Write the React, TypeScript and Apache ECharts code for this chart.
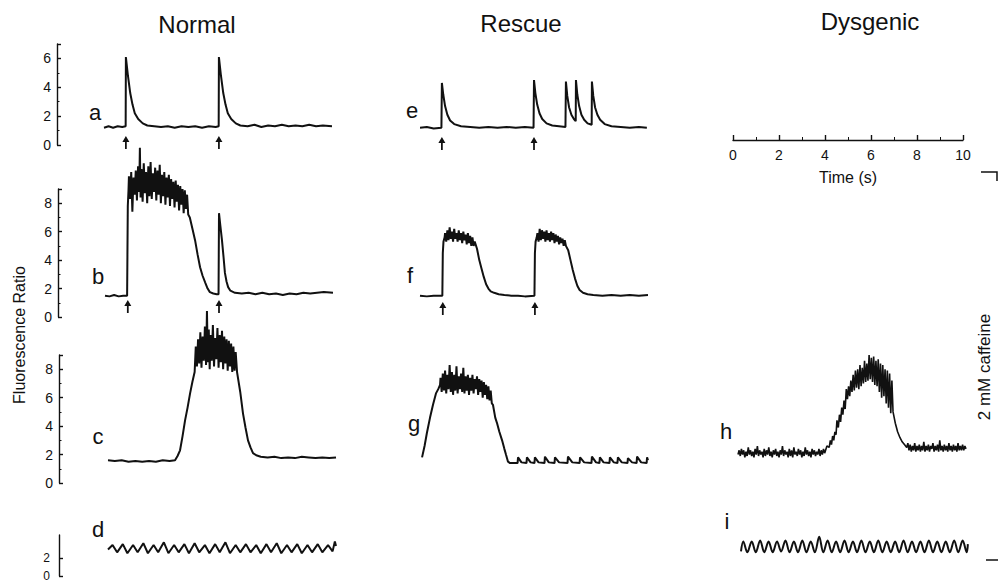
import React, { useEffect, useRef } from "react";
import * as echarts from "echarts";

// ---------- data: [time (s), fluorescence ratio] ----------
const traceA: number[][] = [
  [0, 1.2], [0.2, 1.3], [0.4, 1.2], [0.6, 1.3], [0.8, 1.25], [0.95, 1.3], [0.96, 6.1], [1.05, 4.8], [1.15, 3.6],
  [1.25, 2.8], [1.35, 2.2], [1.5, 1.8], [1.7, 1.5], [1.9, 1.35], [2.2, 1.3], [2.5, 1.25], [2.8, 1.3], [3.1, 1.2],
  [3.4, 1.3], [3.7, 1.25], [4.0, 1.3], [4.3, 1.2], [4.6, 1.3], [4.9, 1.25], [5.03, 1.3], [5.04, 6.1], [5.13, 4.8],
  [5.23, 3.6], [5.33, 2.8], [5.43, 2.2], [5.58, 1.8], [5.78, 1.5], [5.98, 1.35], [6.3, 1.3], [6.6, 1.4], [6.9, 1.25],
  [7.2, 1.35], [7.5, 1.3], [7.8, 1.4], [8.1, 1.3], [8.4, 1.35], [8.7, 1.3], [9.0, 1.4], [9.3, 1.3], [9.6, 1.35], [10, 1.3],
];

const traceB: number[][] = [
  [0, 1.5], [0.2, 1.45], [0.4, 1.55], [0.6, 1.45], [0.8, 1.5], [0.97, 1.5], [1.0, 7.8], [1.03, 8.9],
  [1.05, 9.9], [1.1, 8.3], [1.15, 10.2], [1.2, 7.4], [1.25, 9.8], [1.3, 8.6], [1.35, 10.3], [1.4, 8.2], [1.45, 10.6],
  [1.5, 8.8], [1.53, 11.9], [1.56, 8.4], [1.6, 10.4], [1.65, 8.1], [1.7, 10.8], [1.75, 8.7], [1.8, 10.2], [1.85, 8.0],
  [1.9, 10.6], [1.95, 8.5], [2.0, 10.9], [2.05, 8.3], [2.1, 10.1], [2.15, 8.8], [2.2, 10.5], [2.25, 8.2], [2.3, 10.3],
  [2.35, 8.6], [2.4, 10.7], [2.45, 8.0], [2.5, 10.0], [2.55, 8.5], [2.6, 10.2], [2.65, 7.9], [2.7, 9.8], [2.75, 8.4],
  [2.8, 10.0], [2.85, 7.8], [2.9, 9.7], [2.95, 8.3], [3.0, 9.5], [3.05, 7.7], [3.1, 9.6], [3.15, 8.1], [3.2, 9.3],
  [3.25, 7.5], [3.3, 9.2], [3.35, 7.9], [3.4, 9.0], [3.45, 7.3], [3.5, 8.9], [3.55, 7.6], [3.6, 8.6], [3.65, 7.2],
  [3.72, 7.0], [3.85, 6.1], [3.95, 5.4], [4.06, 4.4], [4.17, 3.5], [4.28, 2.9], [4.4, 2.4], [4.5, 2.0], [4.6, 1.75],
  [4.75, 1.65], [4.9, 1.6], [4.98, 1.6], [5.0, 7.3], [5.06, 6.4], [5.13, 5.4], [5.2, 4.2], [5.26, 3.1], [5.33, 2.5],
  [5.4, 2.1], [5.5, 1.85], [5.7, 1.7], [6.0, 1.65], [6.3, 1.7], [6.6, 1.6], [6.9, 1.7], [7.2, 1.6], [7.5, 1.65],
  [7.8, 1.55], [8.1, 1.65], [8.4, 1.6], [8.7, 1.7], [9.0, 1.65], [9.3, 1.7], [9.6, 1.75], [10, 1.7],
];

const traceC: number[][] = [
  [0, 1.6], [0.3, 1.55], [0.6, 1.6], [0.9, 1.5], [1.2, 1.55], [1.5, 1.5], [1.8, 1.55], [2.1, 1.5], [2.4, 1.6],
  [2.7, 1.55], [2.94, 1.6], [3.05, 1.9], [3.16, 2.3], [3.27, 3.3], [3.38, 4.4], [3.49, 5.3], [3.6, 6.3], [3.7, 7.1],
  [3.8, 7.8], [3.85, 9.6], [3.9, 8.2], [3.95, 10.1], [4.0, 8.4], [4.05, 10.6], [4.1, 8.1], [4.15, 10.3], [4.2, 8.6],
  [4.25, 11.0], [4.3, 8.3], [4.34, 12.1], [4.38, 8.5], [4.42, 10.8], [4.46, 8.0], [4.5, 10.4], [4.55, 8.6], [4.6, 11.1],
  [4.65, 8.2], [4.7, 10.2], [4.75, 8.7], [4.8, 10.9], [4.85, 8.1], [4.9, 10.4], [4.95, 8.5], [5.0, 10.7], [5.05, 8.0],
  [5.1, 10.3], [5.15, 8.4], [5.2, 10.1], [5.25, 7.9], [5.3, 10.0], [5.35, 8.2], [5.4, 9.8], [5.45, 7.8], [5.5, 9.6],
  [5.55, 7.9], [5.6, 9.2], [5.66, 7.8], [5.8, 6.4], [5.92, 4.9], [6.03, 3.9], [6.14, 3.0], [6.25, 2.5], [6.36, 2.1],
  [6.5, 1.95], [6.7, 1.85], [7.0, 1.8], [7.3, 1.85], [7.6, 1.75], [7.9, 1.8], [8.2, 1.75], [8.5, 1.85], [8.8, 1.8],
  [9.1, 1.75], [9.4, 1.8], [9.7, 1.75], [10, 1.8],
];

const traceD: number[][] = [
  [0, 2.9], [0.2, 3.4], [0.4, 2.6], [0.65, 3.5], [0.85, 2.5], [1.1, 3.4], [1.3, 2.6], [1.55, 3.6], [1.75, 2.5],
  [2.0, 3.4], [2.2, 2.6], [2.45, 3.7], [2.65, 2.5], [2.9, 3.4], [3.1, 2.6], [3.35, 3.5], [3.55, 2.5], [3.8, 3.6],
  [4.0, 2.6], [4.25, 3.4], [4.45, 2.5], [4.7, 3.5], [4.9, 2.6], [5.15, 3.7], [5.35, 2.5], [5.6, 3.4], [5.8, 2.6],
  [6.05, 3.5], [6.25, 2.6], [6.5, 3.4], [6.7, 2.5], [6.95, 3.5], [7.15, 2.6], [7.4, 3.6], [7.6, 2.5], [7.85, 3.4],
  [8.05, 2.6], [8.3, 3.5], [8.5, 2.5], [8.75, 3.4], [8.95, 2.6], [9.2, 3.5], [9.4, 2.6], [9.65, 3.4], [9.85, 2.7],
  [9.95, 3.8], [10, 3.3],
];

const traceE: number[][] = [
  [0, 1.2], [0.3, 1.25], [0.6, 1.15], [0.94, 1.2], [0.96, 4.3], [1.02, 3.5], [1.1, 2.7], [1.2, 2.1], [1.32, 1.7],
  [1.5, 1.45], [1.8, 1.3], [2.2, 1.25], [2.6, 1.2], [3.0, 1.25], [3.4, 1.2], [3.8, 1.25], [4.2, 1.2], [4.6, 1.25],
  [4.98, 1.2], [5.0, 4.5], [5.06, 3.6], [5.14, 2.8], [5.24, 2.2], [5.36, 1.8], [5.55, 1.5], [5.8, 1.35], [6.1, 1.3],
  [6.38, 1.25], [6.4, 4.4], [6.46, 3.4], [6.54, 2.6], [6.64, 2.1], [6.75, 1.8], [6.83, 1.65], [6.84, 4.5], [6.9, 3.5],
  [6.98, 2.7], [7.08, 2.1], [7.2, 1.75], [7.35, 1.5], [7.53, 1.4], [7.54, 4.4], [7.6, 3.4], [7.68, 2.6], [7.78, 2.1],
  [7.9, 1.75], [8.1, 1.45], [8.4, 1.3], [8.8, 1.25], [9.2, 1.2], [9.6, 1.25], [9.95, 1.2],
];

const traceF: number[][] = [
  [0, 1.5], [0.3, 1.45], [0.6, 1.5], [0.98, 1.5], [1.0, 4.5], [1.03, 5.3], [1.08, 5.6],
  [1.1, 5.9], [1.15, 5.3], [1.2, 6.1], [1.25, 5.4], [1.3, 6.3], [1.35, 5.5], [1.4, 6.0], [1.45, 5.3], [1.5, 6.2],
  [1.55, 5.5], [1.6, 5.9], [1.65, 5.3], [1.7, 6.1], [1.75, 5.4], [1.8, 5.9], [1.85, 5.2], [1.9, 6.0], [1.95, 5.4],
  [2.0, 5.8], [2.05, 5.1], [2.1, 5.9], [2.15, 5.2], [2.2, 5.7], [2.25, 5.0], [2.3, 5.6], [2.35, 5.0], [2.4, 5.3],
  [2.5, 4.8], [2.6, 4.0], [2.7, 3.4], [2.8, 2.8], [2.9, 2.3], [3.0, 2.0], [3.1, 1.8], [3.25, 1.7], [3.45, 1.6],
  [3.7, 1.55], [4.0, 1.5], [4.3, 1.5], [4.6, 1.45], [5.02, 1.5], [5.04, 4.5], [5.07, 5.3], [5.12, 5.6],
  [5.15, 5.9], [5.2, 5.3], [5.25, 6.2], [5.3, 5.4], [5.35, 6.1], [5.4, 5.5], [5.45, 6.0], [5.5, 5.3], [5.55, 6.1],
  [5.6, 5.4], [5.65, 5.9], [5.7, 5.3], [5.75, 6.0], [5.8, 5.4], [5.85, 5.9], [5.9, 5.2], [5.95, 5.8], [6.0, 5.3],
  [6.05, 5.7], [6.1, 5.1], [6.15, 5.6], [6.2, 5.2], [6.25, 5.5], [6.3, 5.0], [6.35, 5.4], [6.4, 5.0],
  [6.5, 4.7], [6.6, 4.0], [6.7, 3.3], [6.8, 2.7], [6.9, 2.2], [7.0, 1.9], [7.15, 1.7], [7.35, 1.6], [7.6, 1.55],
  [8.0, 1.5], [8.4, 1.55], [8.8, 1.5], [9.2, 1.55], [9.6, 1.5], [10, 1.55],
];

const traceG: number[][] = [
  [0.09, 1.8], [0.2, 2.6], [0.3, 3.5], [0.44, 4.6], [0.57, 5.5], [0.7, 6.3], [0.8, 6.6], [0.88, 6.9],
  [0.9, 7.4], [0.95, 6.4], [1.0, 7.7], [1.05, 6.5], [1.1, 7.9], [1.15, 6.3], [1.2, 7.6], [1.25, 6.6], [1.3, 8.3],
  [1.35, 6.4], [1.4, 7.8], [1.45, 6.2], [1.5, 7.6], [1.55, 6.5], [1.6, 8.2], [1.65, 6.3], [1.7, 7.5], [1.75, 6.6],
  [1.8, 7.7], [1.85, 6.4], [1.9, 8.1], [1.95, 6.3], [2.0, 7.5], [2.05, 6.5], [2.1, 7.6], [2.15, 6.2], [2.2, 7.4],
  [2.25, 6.5], [2.3, 7.6], [2.35, 6.3], [2.4, 7.3], [2.45, 6.6], [2.5, 7.5], [2.55, 6.2], [2.6, 7.3], [2.65, 6.4],
  [2.7, 7.2], [2.75, 6.0], [2.8, 7.1], [2.85, 6.2], [2.9, 6.9], [2.95, 5.9], [3.0, 6.8], [3.05, 5.8], [3.1, 6.5],
  [3.15, 5.6], [3.2, 5.5], [3.3, 4.6], [3.38, 4.2], [3.48, 3.6], [3.6, 3.0], [3.7, 2.4], [3.77, 2.0], [3.86, 1.5],
  [3.95, 1.4], [4.28, 1.4], [4.3, 1.8], [4.45, 1.45], [4.67, 1.4], [4.69, 1.8], [4.85, 1.45], [5.02, 1.4], [5.04, 1.8],
  [5.2, 1.45], [5.46, 1.4], [5.48, 1.85], [5.65, 1.45], [5.9, 1.4], [5.92, 1.8], [6.1, 1.45], [6.47, 1.4], [6.49, 1.85],
  [6.68, 1.45], [7.0, 1.4], [7.02, 1.8], [7.2, 1.45], [7.52, 1.4], [7.54, 1.85], [7.72, 1.45], [7.87, 1.4], [7.89, 1.8],
  [8.05, 1.45], [8.31, 1.4], [8.33, 1.8], [8.5, 1.45], [8.66, 1.4], [8.68, 1.8], [8.85, 1.45], [9.1, 1.4], [9.12, 1.75],
  [9.3, 1.45], [9.5, 1.4], [9.52, 1.85], [9.7, 1.45], [9.94, 1.4], [9.96, 1.8], [10, 1.6],
];

const traceH: number[][] = [
  [0, 2.0], [0.05, 2.3], [0.1, 1.9], [0.15, 2.4], [0.2, 2.0], [0.25, 2.3], [0.3, 1.8], [0.35, 2.2], [0.4, 1.9],
  [0.45, 2.5], [0.5, 2.0], [0.55, 2.3], [0.6, 1.9], [0.65, 2.2], [0.7, 1.8], [0.75, 2.4], [0.8, 2.0], [0.85, 2.6],
  [0.9, 1.9], [0.95, 2.3], [1.0, 2.0], [1.05, 2.2], [1.1, 1.8], [1.15, 2.4], [1.2, 1.9], [1.25, 2.3], [1.3, 2.0],
  [1.35, 2.5], [1.4, 1.9], [1.45, 2.2], [1.5, 1.8], [1.55, 2.3], [1.6, 2.0], [1.65, 2.4], [1.7, 1.9], [1.75, 2.2],
  [1.8, 1.8], [1.85, 2.3], [1.9, 2.0], [1.95, 2.6], [2.0, 1.9], [2.05, 2.3], [2.1, 2.0], [2.15, 2.2], [2.2, 1.8],
  [2.25, 2.4], [2.3, 1.9], [2.35, 2.3], [2.4, 1.8], [2.45, 2.5], [2.5, 2.0], [2.55, 2.2], [2.6, 1.9], [2.65, 2.4],
  [2.7, 2.0], [2.75, 2.3], [2.8, 1.8], [2.85, 2.2], [2.9, 1.9], [2.95, 2.5], [3.0, 2.0], [3.05, 2.3], [3.1, 1.9],
  [3.15, 2.2], [3.2, 1.8], [3.25, 2.4], [3.3, 2.0], [3.35, 2.3], [3.4, 1.9], [3.45, 2.2], [3.5, 2.0], [3.55, 2.4],
  [3.6, 1.9], [3.65, 2.3], [3.7, 2.0], [3.75, 2.4], [3.8, 2.1],
  [3.9, 2.6], [4.0, 2.5], [4.05, 3.0], [4.1, 2.7], [4.15, 3.3], [4.2, 3.0], [4.25, 3.6], [4.3, 3.4], [4.34, 4.4],
  [4.4, 3.9], [4.45, 4.8], [4.5, 4.3], [4.55, 5.3], [4.6, 4.8], [4.65, 5.8], [4.7, 5.2], [4.75, 6.6], [4.8, 5.9],
  [4.85, 6.8], [4.9, 6.1], [4.95, 7.2], [5.0, 6.4], [5.05, 7.6], [5.1, 6.5], [5.15, 7.9], [5.2, 6.7], [5.25, 8.0],
  [5.3, 6.6], [5.35, 8.3], [5.4, 6.8], [5.45, 8.1], [5.5, 7.0], [5.55, 8.6], [5.6, 7.1], [5.65, 8.4], [5.7, 7.2],
  [5.75, 9.0], [5.8, 7.3], [5.85, 8.8], [5.9, 7.1], [5.95, 8.9], [6.0, 6.9], [6.05, 8.6], [6.1, 6.8], [6.15, 8.7],
  [6.2, 6.4], [6.25, 8.4], [6.3, 6.0], [6.35, 8.3], [6.4, 6.1], [6.45, 8.0], [6.5, 5.6], [6.55, 7.9], [6.6, 5.3],
  [6.65, 7.7], [6.7, 4.9], [6.75, 7.2], [6.8, 5.0], [6.9, 4.2], [7.0, 3.6], [7.1, 3.2], [7.2, 2.9], [7.3, 2.7],
  [7.4, 2.5], [7.45, 2.8], [7.5, 2.3], [7.55, 2.7], [7.6, 2.2], [7.65, 2.6], [7.7, 2.3], [7.75, 2.8], [7.8, 2.2],
  [7.85, 2.6], [7.9, 2.3], [7.95, 2.7], [8.0, 2.2], [8.05, 2.6], [8.1, 2.3], [8.15, 2.9], [8.2, 2.2], [8.25, 2.6],
  [8.3, 2.3], [8.35, 2.7], [8.4, 2.2], [8.45, 2.6], [8.5, 2.4], [8.55, 2.8], [8.6, 2.2], [8.65, 2.6], [8.7, 2.3],
  [8.75, 2.7], [8.8, 2.2], [8.85, 3.0], [8.9, 2.3], [8.95, 2.6], [9.0, 2.2], [9.05, 2.7], [9.1, 2.3], [9.15, 2.6],
  [9.2, 2.2], [9.25, 2.8], [9.3, 2.3], [9.35, 2.6], [9.4, 2.2], [9.45, 2.7], [9.5, 2.3], [9.55, 2.6], [9.6, 2.2],
  [9.65, 2.8], [9.7, 2.3], [9.75, 2.6], [9.8, 2.3], [9.85, 2.7], [9.9, 2.3], [9.95, 2.6], [10, 2.4],
];

const traceI: number[][] = [
  [0, 2.7], [0.1, 3.8], [0.28, 2.6], [0.47, 3.8], [0.65, 2.6], [0.84, 3.9], [1.02, 2.6], [1.21, 3.8], [1.39, 2.6],
  [1.58, 3.8], [1.76, 2.7], [1.95, 3.9], [2.13, 2.6], [2.32, 3.8], [2.5, 2.6], [2.69, 3.9], [2.87, 2.6], [3.06, 3.8],
  [3.24, 2.6], [3.43, 4.3], [3.61, 2.6], [3.8, 3.9], [3.98, 2.6], [4.17, 3.8], [4.35, 2.6], [4.54, 3.9], [4.72, 2.6],
  [4.91, 3.8], [5.09, 2.6], [5.28, 3.9], [5.46, 2.6], [5.65, 3.8], [5.83, 2.6], [6.02, 3.9], [6.2, 2.6], [6.39, 3.8],
  [6.57, 2.6], [6.76, 3.8], [6.94, 2.6], [7.13, 3.9], [7.31, 2.6], [7.5, 3.8], [7.68, 2.6], [7.87, 3.8], [8.05, 2.6],
  [8.24, 3.9], [8.42, 2.6], [8.61, 3.8], [8.79, 2.6], [8.98, 3.8], [9.16, 2.6], [9.35, 3.9], [9.53, 2.6], [9.72, 3.9],
  [9.9, 2.6], [9.95, 3.5],
];

// stimulus arrow times (s)
const stimA = [0.96, 5.04];
const stimB = [1.0, 5.0];
const stimE = [0.96, 5.0];
const stimF = [1.0, 5.04];

const columnTitles = ["Normal", "Rescue", "Dysgenic"];
const panelLetters = ["a", "b", "c", "d", "e", "f", "g", "h", "i"];
const timeTickStep = 2;

// ---------- layout ----------
const FONT = "'Liberation Sans', Arial, Helvetica, sans-serif";
const INK = "#111";
const rows = [
  { top: 44, height: 101, max: 7 },
  { top: 189, height: 128, max: 9 },
  { top: 355, height: 128, max: 9 },
  { top: 535, height: 41, max: 4.5 },
];

const panels = [
  { data: traceA, left: 104, row: 0, axis: true, offset: 47, stim: stimA, arrowY: 0.17 },
  { data: traceB, left: 105, row: 1, axis: true, offset: 47, stim: stimB, arrowY: 0.74 },
  { data: traceC, left: 108, row: 2, axis: true, offset: 49 },
  { data: traceD, left: 108, row: 3, axis: true, offset: 49 },
  { data: traceE, left: 420, row: 0, stim: stimE, arrowY: 0.1 },
  { data: traceF, left: 420, row: 1, stim: stimF, arrowY: 0.6 },
  { data: traceG, left: 420, row: 2 },
  { data: traceH, left: 738, row: 2, width: 1.6 },
  { data: traceI, left: 741, row: 3, smooth: 0.35 },
] as any[];

const letterPos = [
  [95, 112], [98, 276], [98, 436], [98, 529], [412, 110], [410, 275], [414, 423], [726, 431], [727, 521],
];
const titlePos = [[197, 24], [521, 23], [870, 21]];

const ARROW = "path://M4,0 L8,6.5 L5,6.5 L5,14 L3,14 L3,6.5 L0,6.5 Z";

function txt(text: string, x: number, y: number, size: number, rotation = 0) {
  return {
    type: "text",
    x,
    y,
    rotation,
    silent: true,
    style: {
      text,
      fill: INK,
      fontSize: size,
      fontFamily: FONT,
      align: "center",
      verticalAlign: "middle",
      textAlign: "center",
      textVerticalAlign: "middle",
    },
  };
}

export default function App() {
  const ref = useRef<HTMLDivElement>(null);
  useEffect(() => {
    const chart = echarts.init(ref.current!, null, { renderer: "svg" });
    const grid: any[] = [];
    const xAxis: any[] = [];
    const yAxis: any[] = [];
    const series: any[] = [];

    panels.forEach((p, i) => {
      const r = rows[p.row];
      grid.push({ left: p.left, top: r.top, width: 228, height: r.height });
      xAxis.push({ gridIndex: i, type: "value", min: 0, max: 10, show: false, axisLine: { onZero: false } });
      const isD = p.row === 3;
      yAxis.push({
        gridIndex: i,
        type: "value",
        min: 0,
        max: r.max,
        interval: 2,
        show: !!p.axis,
        position: "left",
        offset: p.offset || 0,
        splitLine: { show: false },
        axisLine: { show: true, onZero: false, lineStyle: { color: INK, width: 1.4 } },
        axisTick: isD
          ? { show: true, inside: true, length: 4, lineStyle: { color: INK, width: 1.4 }, customValues: [0, 2, 4.5] }
          : { show: true, inside: true, length: 4, lineStyle: { color: INK, width: 1.4 } },
        minorTick: { show: !isD, splitNumber: 2, length: 2.5, lineStyle: { color: INK, width: 1 } },
        axisLabel: {
          color: INK,
          fontSize: isD ? 12 : 14,
          fontFamily: FONT,
          margin: isD ? 9 : 6,
          showMaxLabel: false,
          formatter: (v: number) => (isD && v > 2 ? "" : String(v)),
        },
      });
      series.push({
        type: "line",
        xAxisIndex: i,
        yAxisIndex: i,
        data: p.data,
        showSymbol: false,
        symbol: "none",
        clip: false,
        silent: true,
        smooth: p.smooth || false,
        lineStyle: { color: INK, width: p.width || 2 },
      });
      if (p.stim) {
        series.push({
          type: "scatter",
          xAxisIndex: i,
          yAxisIndex: i,
          data: p.stim.map((t: number) => [t, p.arrowY]),
          symbol: ARROW,
          symbolSize: [7, 13],
          clip: false,
          silent: true,
          itemStyle: { color: INK, opacity: 1 },
        });
      }
    });

    // time scale bar
    const si = panels.length;
    grid.push({ left: 733, top: 100, width: 230, height: 40 });
    xAxis.push({
      gridIndex: si,
      type: "value",
      min: 0,
      max: 10,
      interval: timeTickStep,
      position: "bottom",
      axisLine: { show: true, onZero: false, lineStyle: { color: INK, width: 1.4 } },
      axisTick: { show: true, inside: true, length: 5, lineStyle: { color: INK, width: 1.4 } },
      minorTick: { show: true, splitNumber: 2, length: 3, lineStyle: { color: INK, width: 1 } },
      splitLine: { show: false },
      axisLabel: { color: INK, fontSize: 14, fontFamily: FONT, margin: 8 },
      name: "Time (s)",
      nameLocation: "middle",
      nameGap: 29,
      nameTextStyle: { color: INK, fontSize: 16, fontFamily: FONT },
    });
    yAxis.push({ gridIndex: si, type: "value", min: 0, max: 1, show: false });
    series.push({ type: "line", xAxisIndex: si, yAxisIndex: si, data: [], silent: true });

    const graphic: any[] = [];
    columnTitles.forEach((t, k) => graphic.push(txt(t, titlePos[k][0], titlePos[k][1], 24)));
    panelLetters.forEach((l, k) => graphic.push(txt(l, letterPos[k][0], letterPos[k][1], 22)));
    graphic.push(txt("Fluorescence Ratio", 19, 335, 16, Math.PI / 2));
    graphic.push(txt("2 mM caffeine", 984, 367, 17, Math.PI / 2));
    graphic.push({
      type: "polyline",
      silent: true,
      shape: { points: [[981, 172], [997, 172], [997, 181]] },
      style: { stroke: INK, lineWidth: 1.5, fill: null },
    });
    graphic.push({
      type: "line",
      silent: true,
      shape: { x1: 986, y1: 560, x2: 998, y2: 560 },
      style: { stroke: INK, lineWidth: 1.5 },
    });

    chart.setOption({
      animation: false,
      backgroundColor: "#ffffff",
      grid,
      xAxis,
      yAxis,
      series,
      graphic,
    });
    return () => chart.dispose();
  }, []);
  return (
    <div
      ref={ref}
      style={{ position: "fixed", left: 0, top: 0, width: 998, height: 582, background: "#fff" }}
    />
  );
}
